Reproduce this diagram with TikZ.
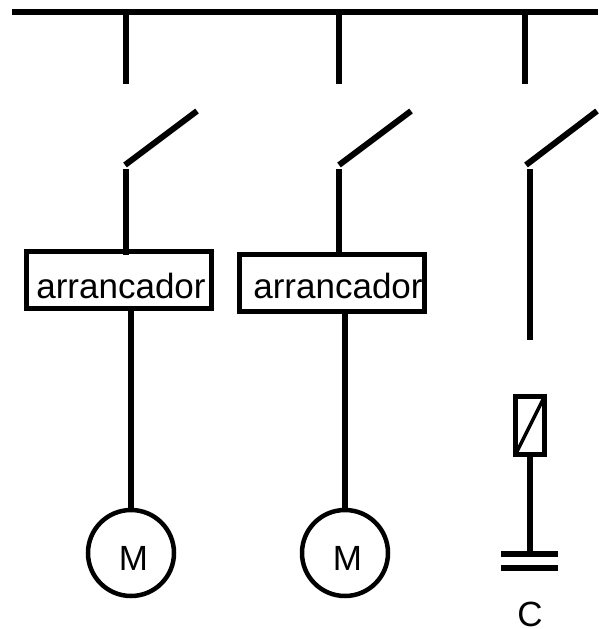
\documentclass[tikz,border=0pt]{standalone}
\usepackage{fontspec}
\setmainfont{Liberation Sans}
\usetikzlibrary{positioning}

\begin{document}
\begin{tikzpicture}[
  x=1pt, y=-1pt,
  wire/.style = {line width=6pt},
  startbox/.style = {rectangle, draw, line width=5pt, inner sep=0pt, outer sep=0pt,
                 minimum width=185pt, minimum height=57pt},
  motor/.style = {circle, draw, line width=4.5pt, inner sep=0pt, outer sep=0pt,
                 minimum size=86pt},
  fuse/.style = {rectangle, draw, line width=5pt, inner sep=0pt, outer sep=0pt,
                 minimum width=29pt, minimum height=58pt},
  tag/.style = {anchor=base, inner sep=0pt, font=\fontsize{35pt}{40pt}\selectfont}
]
\useasboundingbox (0,0) rectangle (598,629);

% Bus bar and its three drops
\coordinate (busL) at (12,12);
\coordinate (busR) at (598,12);
\draw[wire] (busL) -- (busR);
\coordinate (dropA) at (126,84);
\coordinate (dropB) at (339,84);
\coordinate (dropC) at (525,84);
\draw[wire] (dropA |- busL) -- (dropA);
\draw[wire] (dropB |- busL) -- (dropB);
\draw[wire] (dropC |- busL) -- (dropC);

% Switch blades
\coordinate (pivotA) at (125,165);
\coordinate (pivotB) at (339,165);
\coordinate (pivotC) at (526,165);
\coordinate (tipA) at (197,111);
\coordinate (tipB) at (411,111);
\coordinate (tipC) at (597,111);
\draw[wire] (pivotA) -- (tipA);
\draw[wire] (pivotB) -- (tipB);
\draw[wire] (pivotC) -- (tipC);

% Starters and motors
\node[startbox] (startA) at (119,280) {};
\node[startbox] (startB) at (332,283) {};
\node[tag] (textA) at (121,298) {arrancador};
\node[tag] (textB) at (338,298) {arrancador};
\node[motor] (motA) at (131,553) {};
\node[motor] (motB) at (345,553) {};
\node[tag] (letterA) at (133.5,570) {M};
\node[tag] (letterB) at (347.5,570) {M};

% Fuse, capacitor
\node[fuse] (fuseC) at (530,425.5) {};
\draw[line width=3.5pt] (fuseC.south west) -- (fuseC.north east);
\coordinate (plateAL) at (501,554);
\coordinate (plateAR) at (558,554);
\coordinate (plateBL) at (501,568);
\coordinate (plateBR) at (558,568);
\draw[wire] (plateAL) -- (plateAR);
\draw[wire] (plateBL) -- (plateBR);
\node[tag] (capC) at (530,626.5) {C};

% Wires
\coordinate (inA) at (126,169);
\coordinate (inB) at (339,169);
\coordinate (inC) at (530,169);
\coordinate (outC) at (530,340);
\draw[wire, shorten >=-3.5pt] (inA) -- (inA |- startA.north);
\draw[wire] (inB) -- (inB |- startB.north);
\draw[wire] (inC) -- (outC);
\draw[wire] (motA.north |- startA.south) -- (motA.north);
\draw[wire] (motB.north |- startB.south) -- (motB.north);
\draw[wire] (fuseC.south) -- (fuseC.south |- plateAL);

\end{tikzpicture}
\end{document}
